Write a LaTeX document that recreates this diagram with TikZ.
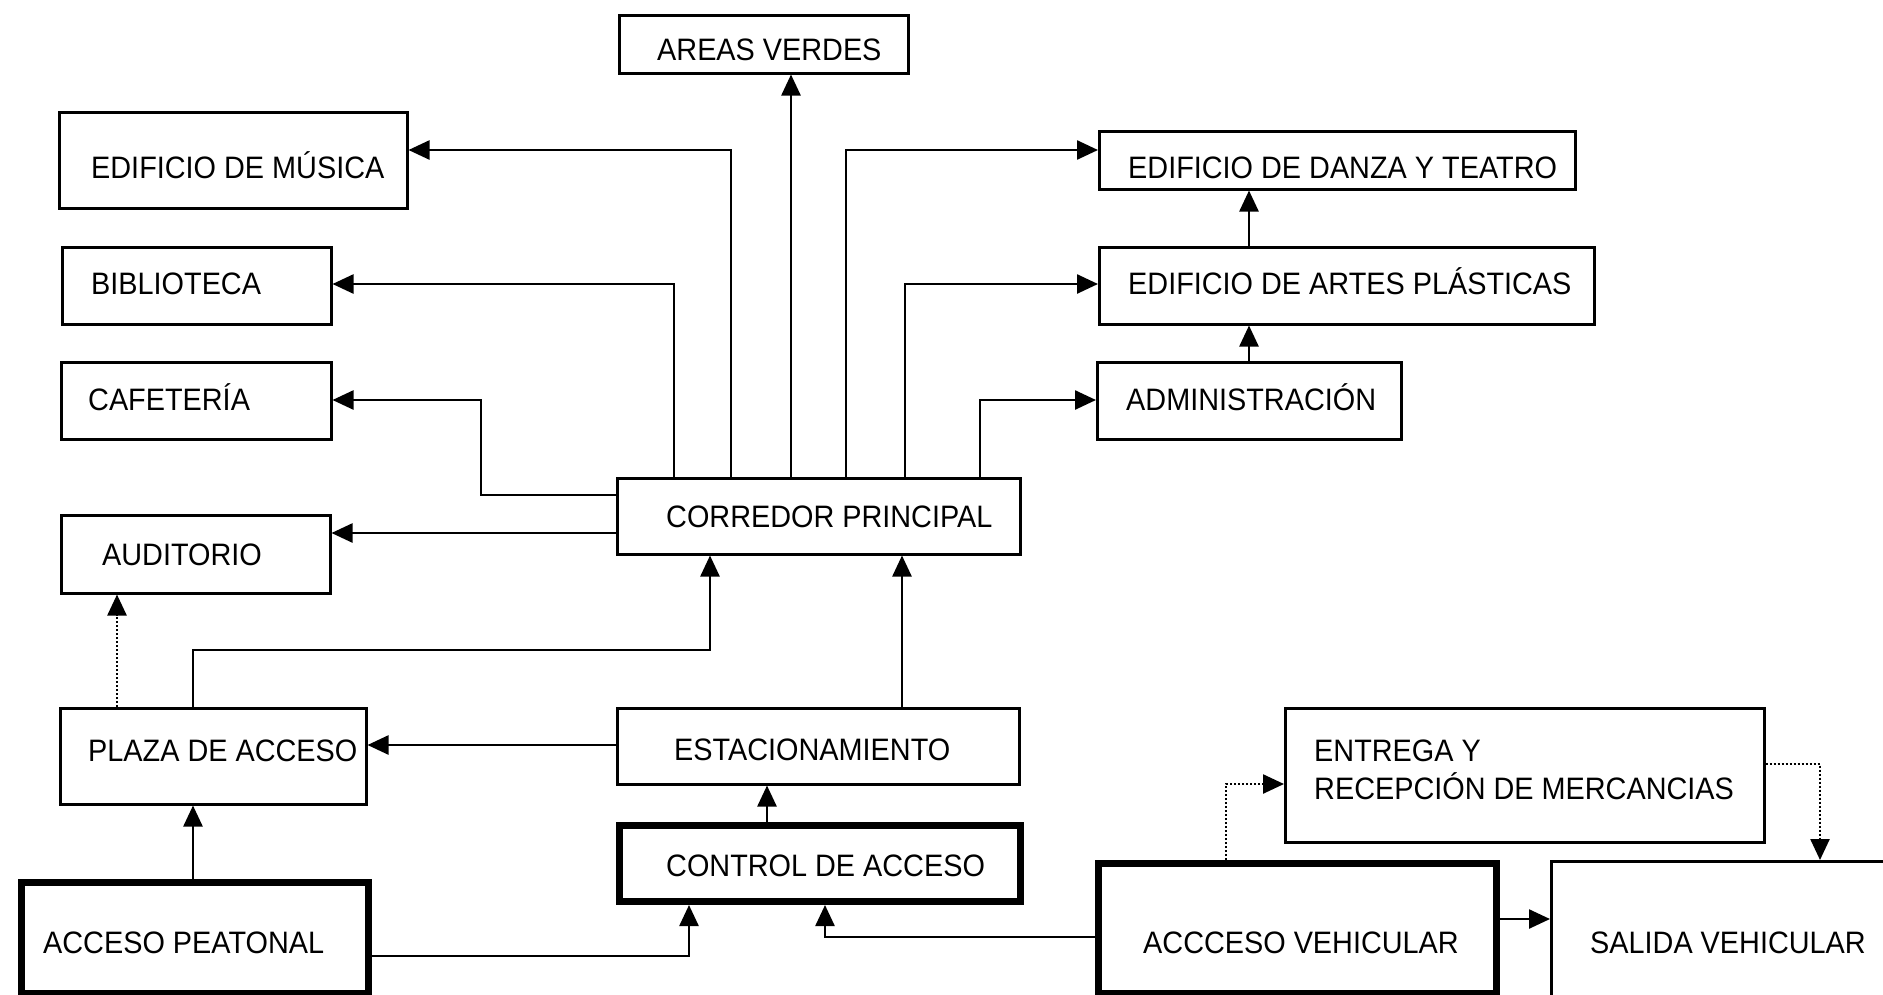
\documentclass[tikz,border=0pt]{standalone}
\usepackage{fontspec}
\setmainfont{Liberation Sans}[FakeStretch=0.93]
\usetikzlibrary{arrows.meta}
\begin{document}
\begin{tikzpicture}[x=1pt,y=-1pt,
  box/.style={draw,line width=2.5pt,inner sep=0pt,anchor=north west},
  thickbox/.style={draw,line width=7pt,inner sep=0pt,anchor=north west},
  lbl/.style={anchor=base west,inner sep=0pt,font=\fontsize{31}{36}\selectfont},
  arr/.style={line width=2.5pt,-{Triangle[length=21pt,width=19pt]}},
  dots/.style={dash pattern=on 2pt off 2pt}]
\fill[white] (0,0) rectangle (1883,994);
\useasboundingbox (0,0) rectangle (1883,994);

% boxes
\node[box,minimum width=289pt,minimum height=58pt] (areas) at (618,14) {};
\node[box,minimum width=348pt,minimum height=96pt] (musica) at (58,111) {};
\node[box,minimum width=269pt,minimum height=77pt] (biblio) at (61,246) {};
\node[box,minimum width=270pt,minimum height=77pt] (cafe) at (60,361) {};
\node[box,minimum width=269pt,minimum height=78pt] (audit) at (60,514) {};
\node[box,minimum width=403pt,minimum height=76pt] (corr) at (616,477) {};
\node[box,minimum width=476pt,minimum height=58pt] (danza) at (1098,130) {};
\node[box,minimum width=495pt,minimum height=77pt] (artes) at (1098,246) {};
\node[box,minimum width=304pt,minimum height=77pt] (admin) at (1096,361) {};
\node[box,minimum width=306pt,minimum height=96pt] (plaza) at (59,707) {};
\node[box,minimum width=402pt,minimum height=76pt] (estac) at (616,707) {};
\node[thickbox,minimum width=401pt,minimum height=76pt] (control) at (616,822) {};
\node[thickbox,minimum width=347.5pt,minimum height=111pt] (peat) at (17.5,879) {};
\node[box,minimum width=479pt,minimum height=134pt] (entrega) at (1284,707) {};
\node[thickbox,minimum width=398pt,minimum height=130pt] (veh) at (1095,860) {};
\node[box,minimum width=350pt,minimum height=140pt] (salida) at (1550,860) {};

% labels
\node[lbl] (areas-t) at (657,60) {AREAS VERDES};
\node[lbl] (musica-t) at (91,178) {EDIFICIO DE MÚSICA};
\node[lbl] (biblio-t) at (91,294) {BIBLIOTECA};
\node[lbl] (cafe-t) at (88,410) {CAFETERÍA};
\node[lbl] (audit-t) at (102,565) {AUDITORIO};
\node[lbl] (corr-t) at (666,527) {CORREDOR PRINCIPAL};
\node[lbl] (danza-t) at (1128,178) {EDIFICIO DE DANZA Y TEATRO};
\node[lbl] (artes-t) at (1128,294) {EDIFICIO DE ARTES PLÁSTICAS};
\node[lbl] (admin-t) at (1126,410) {ADMINISTRACIÓN};
\node[lbl] (plaza-t) at (88,761) {PLAZA DE ACCESO};
\node[lbl] (estac-t) at (674,760) {ESTACIONAMIENTO};
\node[lbl] (control-t) at (666,876) {CONTROL DE ACCESO};
\node[lbl] (peat-t) at (43,953) {ACCESO PEATONAL};
\node[lbl] (entrega-t1) at (1314,761) {ENTREGA Y};
\node[lbl] (entrega-t2) at (1314,799) {RECEPCIÓN DE MERCANCIAS};
\node[lbl] (veh-t) at (1143,953) {ACCCESO VEHICULAR};
\node[lbl] (salida-t) at (1590,953) {SALIDA VEHICULAR};

% connectors
\draw[arr] (731,0 |- corr.north) |- (musica.east |- 0,150);
\draw[arr] (674,0 |- corr.north) |- (biblio.east |- 0,284);
\draw[arr] (corr.west |- 0,495) -| (481,400) -- (cafe.east |- 0,400);
\draw[arr] (791,0 |- corr.north) -- (791,0 |- areas.south);
\draw[arr] (846,0 |- corr.north) |- (danza.west |- 0,150);
\draw[arr] (905,0 |- corr.north) |- (artes.west |- 0,284);
\draw[arr] (980,0 |- corr.north) |- (admin.west |- 0,400);
\draw[arr] (1249,0 |- admin.north) -- (1249,0 |- artes.south);
\draw[arr] (1249,0 |- artes.north) -- (1249,0 |- danza.south);
\draw[arr] (corr.west |- 0,533) -- (audit.east |- 0,533);
\draw[arr,dots] (117,0 |- plaza.north) -- (117,0 |- audit.south);
\draw[arr] (193,0 |- plaza.north) |- (710,650) -- (710,0 |- corr.south);
\draw[arr] (902,0 |- estac.north) -- (902,0 |- corr.south);
\draw[arr] (estac.west |- 0,745) -- (plaza.east |- 0,745);
\draw[arr] (767,0 |- control.north) -- (767,0 |- estac.south);
\draw[arr] (193,0 |- peat.north) -- (193,0 |- plaza.south);
\draw[arr] (peat.east |- 0,956) -| (689,0 |- control.south);
\draw[arr] (veh.west |- 0,937) -| (825,0 |- control.south);
\draw[arr,dots] (1226,0 |- veh.north) |- (entrega.west |- 0,784);
\draw[arr,dots] (entrega.east |- 0,764) -| (1820,0 |- salida.north);
\draw[arr] (veh.east |- 0,919) -- (salida.west |- 0,919);
\end{tikzpicture}
\end{document}
